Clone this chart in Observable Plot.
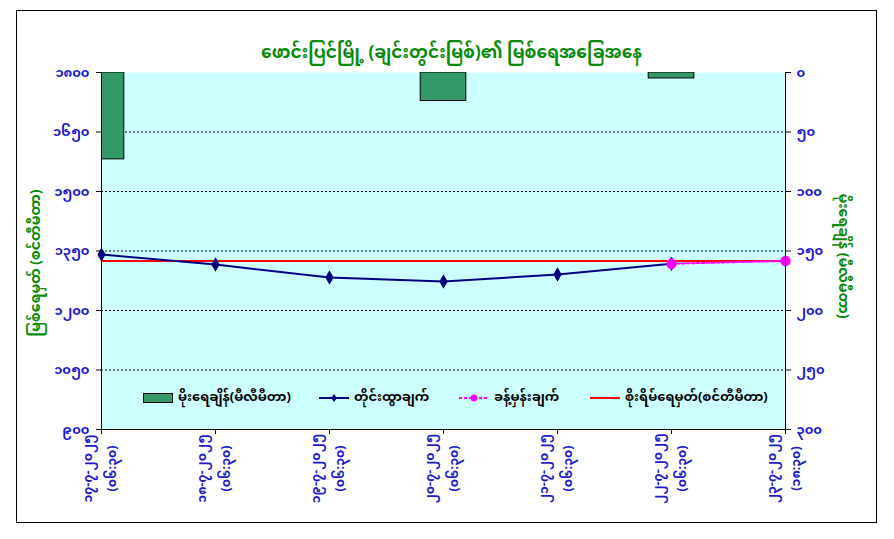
<!DOCTYPE html>
<html><head><meta charset="utf-8">
<script src="https://cdn.jsdelivr.net/npm/d3@7"></script>
<script src="https://cdn.jsdelivr.net/npm/@observablehq/plot@0.6"></script>
<style>
body{margin:0;background:#fff;}
#wrap{position:relative;width:894px;height:539px;overflow:hidden;font-family:"Noto Sans Myanmar","Padauk","Myanmar Text","Noto Sans",sans-serif;}
#border{position:absolute;left:16px;top:10px;width:859px;height:511px;border:1px solid #000;pointer-events:none;}
#chart{position:absolute;left:0;top:0;}
.leg{position:absolute;top:386px;height:24px;display:flex;align-items:center;font-size:13px;font-weight:bold;color:#000;white-space:nowrap;}
.leg svg{margin-right:5px;}
</style></head><body>
<div id="wrap"><div id="chart"></div><div id="border"></div><div id="legend"></div></div>
<script>
const title = "ဖောင်းပြင်မြို့ (ချင်းတွင်းမြစ်)၏ မြစ်ရေအခြေအနေ";
const leftLabel = "မြစ်ရေမှတ် (စင်တီမီတာ)";
const rightLabel = "မိုးရေချိန် (မီလီမီတာ)";
const dateLabels = ["၁၇-၇-၂၀၂၅","၁၈-၇-၂၀၂၅","၁၉-၇-၂၀၂၅","၂၀-၇-၂၀၂၅","၂၁-၇-၂၀၂၅","၂၂-၇-၂၀၂၅","၂၃-၇-၂၀၂၅"];
const timeLabels = ["(၀၆:၃၀)","(၀၆:၃၀)","(၀၆:၃၀)","(၀၆:၃၀)","(၀၆:၃၀)","(၀၆:၃၀)","(၁၈:၃၀)"];
const rainfall = [73, 0, 0, 24, 0, 5, 0];          // mm, per category
const observed = [1341, 1316, 1283, 1273, 1291, 1318]; // cm, categories 0..5
const forecastIdx = [5, 6];
const forecast = [1318, 1325];                     // cm
const dangerLevel = 1325;                          // cm
const levelTicks = [900, 1050, 1200, 1350, 1500, 1650, 1800];
const rainTicks = [0, 50, 100, 150, 200, 250, 300];
const legendNames = ["မိုးရေချိန်(မီလီမီတာ)","တိုင်းထွာချက်","ခန့်မှန်းချက်","စိုးရိမ်ရေမှတ်(စင်တီမီတာ)"];

const levelMin = levelTicks[0], levelMax = levelTicks[levelTicks.length-1];
const rainMax = rainTicks[rainTicks.length-1];
const rainToLevel = r => levelMax - r * (levelMax - levelMin) / rainMax;
const levelToRain = v => (levelMax - v) * rainMax / (levelMax - levelMin);
const my = s => String(s).replace(/\d/g, d => String.fromCharCode(0x1040 + (+d)));

const idx = dateLabels.map((_, i) => i);
const rainData = rainfall.map((r, i) => ({i, r})).filter(d => d.r > 0);
const obsData = observed.map((v, i) => ({i, v}));
const fcData = forecast.map((v, k) => ({i: forecastIdx[k], v}));

const blue = "#1a1acc", green = "#0a8a0a";
const font = "'Noto Sans Myanmar','Padauk','Myanmar Text','Noto Sans',sans-serif";

const chart = Plot.plot({
  width: 894, height: 539,
  marginLeft: 101, marginRight: 109, marginTop: 72, marginBottom: 110,
  x: {type: "linear", domain: [0, idx.length - 1], axis: null},
  y: {domain: [levelMin, levelMax], axis: null},
  style: {fontFamily: font, fontSize: "13px", background: "transparent", overflow: "visible"},
  marks: [
    Plot.frame({fill: "#ccffff", stroke: null}),
    Plot.ruleY(levelTicks.slice(1, -1), {stroke: "#000", strokeWidth: 1, strokeDasharray: "2,2"}),
    Plot.rect(rainData, {x1: d => d.i - 0.2, x2: d => d.i + 0.2, y1: levelMax, y2: d => rainToLevel(d.r),
      fill: "#339966", stroke: "#000", strokeWidth: 1, clip: true}),
    Plot.ruleY([dangerLevel], {stroke: "#ff0000", strokeWidth: 2}),
    Plot.line(obsData, {x: "i", y: "v", stroke: "#000080", strokeWidth: 2}),
    Plot.line(fcData, {x: "i", y: "v", stroke: "#ff00ff", strokeWidth: 2, strokeDasharray: "3,2"}),
    Plot.dot(obsData, {x: "i", y: "v", symbol: "diamond", r: 3.5, fill: "#000080", stroke: "#000080"}),
    Plot.dot(fcData, {x: "i", y: "v", r: 4.5, fill: "#ff00ff", stroke: "#ff00ff"}),
    Plot.ruleX([0, idx.length - 1], {stroke: "#000", strokeWidth: 1}),
    Plot.ruleY([levelMin], {stroke: "#000", strokeWidth: 1}),
    Plot.axisY({anchor: "left", ticks: levelTicks, tickSize: 5, tickPadding: 7, tickFormat: my,
      fill: blue, stroke: "#000", fontWeight: "bold", fontSize: 13, label: null}),
    Plot.axisY({anchor: "right", ticks: rainTicks.map(rainToLevel), tickSize: 5, tickPadding: 6,
      tickFormat: v => my(Math.round(levelToRain(v))), fill: blue, stroke: "#000", fontWeight: "bold", fontSize: 13, label: null}),
    Plot.axisX({anchor: "bottom", ticks: idx, tickSize: 5, tickFormat: () => "", stroke: "#000", label: null}),
    Plot.text(idx, {x: d => d, text: d => dateLabels[d] + "\n" + timeLabels[d], frameAnchor: "bottom",
      dx: -5, dy: 39, rotate: -90, textAnchor: "middle", lineAnchor: "middle", lineHeight: 1.9,
      fill: blue, fontWeight: "bold", fontSize: 12.5}),
    Plot.text([title], {frameAnchor: "top", dy: -27, dx: 8, textAnchor: "middle", fill: green, fontWeight: "bold", fontSize: 17}),
    Plot.text([leftLabel], {frameAnchor: "left", dx: -66, dy: 12, textAnchor: "middle", rotate: -90, fill: green, fontWeight: "bold", fontSize: 14}),
    Plot.text([rightLabel], {frameAnchor: "right", dx: 58, dy: 5, textAnchor: "middle", rotate: 90, fill: green, fontWeight: "bold", fontSize: 14})
  ]
});
document.getElementById("chart").appendChild(chart);

// legend
const leg = document.getElementById("legend");
const swatches = [
  `<svg width="30" height="10"><rect x="0.5" y="0.5" width="29" height="9" fill="#339966" stroke="#000"/></svg>`,
  `<svg width="30" height="12"><line x1="0" y1="6" x2="30" y2="6" stroke="#000080" stroke-width="2"/><path d="M15,2L18,6L15,10L12,6Z" fill="#000080"/></svg>`,
  `<svg width="30" height="12"><line x1="0" y1="6" x2="30" y2="6" stroke="#ff00ff" stroke-width="2" stroke-dasharray="3,2"/><circle cx="15" cy="6" r="3.5" fill="#ff00ff"/></svg>`,
  `<svg width="30" height="12"><line x1="0" y1="6" x2="30" y2="6" stroke="#ff0000" stroke-width="2"/></svg>`
];
const legLeft = [143, 319, 459, 590];
legendNames.forEach((name, k) => {
  const d = document.createElement("div");
  d.className = "leg";
  d.style.left = legLeft[k] + "px";
  d.innerHTML = swatches[k] + `<span>${name}</span>`;
  leg.appendChild(d);
});
</script>
</body></html>
